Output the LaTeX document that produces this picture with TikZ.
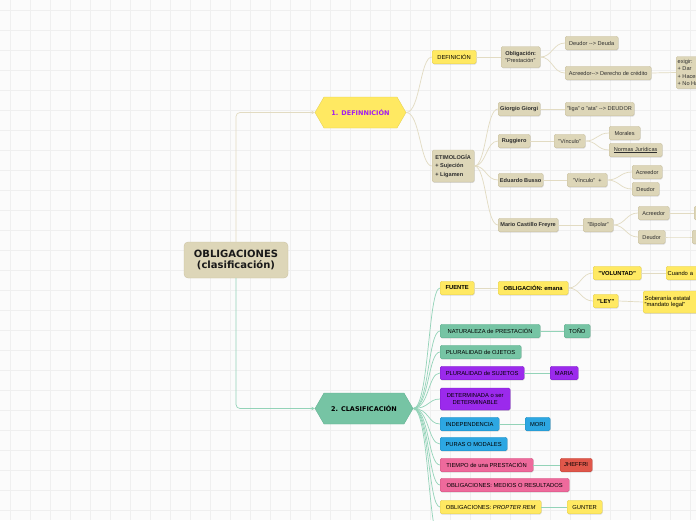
\documentclass[tikz,border=0pt]{standalone}
\usepackage{fontspec}
\setmainfont{Liberation Sans}
\newfontfamily\dejab{DejaVu Sans}
\usetikzlibrary{shapes.symbols,shadows,arrows.meta}
\definecolor{bgc}{HTML}{FBFBFB}
\definecolor{gridc}{HTML}{EFEFEF}
\definecolor{tanc}{HTML}{DDD6B8}
\definecolor{tanb}{HTML}{C8BF9E}
\definecolor{txt}{HTML}{2E2E2E}
\definecolor{ylw}{HTML}{FFE962}
\definecolor{ylwb}{HTML}{E3CF50}
\definecolor{grn}{HTML}{76C4A4}
\definecolor{grnb}{HTML}{5FAE8E}
\definecolor{pur}{HTML}{9B2AEC}
\definecolor{purb}{HTML}{7E1CC8}
\definecolor{blu}{HTML}{2DA7E2}
\definecolor{blub}{HTML}{1E8CC0}
\definecolor{pnk}{HTML}{EE6A9C}
\definecolor{pnkb}{HTML}{D0507F}
\definecolor{redc}{HTML}{E0574A}
\definecolor{redb}{HTML}{C0443A}
\definecolor{hexp}{HTML}{A21CF0}
\definecolor{tanl}{HTML}{E2DBC2}
\definecolor{grnl}{HTML}{93D3B8}
\newcommand\myfa{\fontsize{5.6}{6.6}\selectfont}
\newcommand\myfb{\fontsize{5.8}{6.8}\selectfont}
\newcommand\myfc{\fontsize{5.6}{8.2}\selectfont}
\tikzset{
  box/.style={anchor=west, rounded corners=1.5pt, inner xsep=1.5pt, inner ysep=1.5pt,
    minimum height=13.5pt, align=center, line width=0.3pt,
    drop shadow={shadow xshift=0.4pt, shadow yshift=-0.8pt, opacity=0.22, fill=black!60}},
  tanbox/.style={box, fill=tanc, draw=tanb, text=txt, font=\myfa},
  ylwbox/.style={box, fill=ylw, draw=ylwb, text=black, font=\myfb},
  grnbox/.style={box, fill=grn, draw=grnb, text=black, font=\myfb},
  purbox/.style={box, fill=pur, draw=purb, text=black, font=\myfb},
  blubox/.style={box, fill=blu, draw=blub, text=black, font=\myfb},
  pnkbox/.style={box, fill=pnk, draw=pnkb, text=black, font=\myfb},
  redbox/.style={box, fill=redc, draw=redb, text=black, font=\myfb},
  hexa/.style={signal, signal to=west and east, signal pointer angle=120,
    minimum height=31pt, inner sep=0pt, line width=0.3pt,
    font={\dejab\bfseries\fontsize{6.5}{7.5}\selectfont}},
  rootbox/.style={fill=tanc, draw=tanb, line width=0.3pt, rounded corners=4pt,
    minimum width=104pt, minimum height=36pt, align=center, text=black!90,
    font={\dejab\bfseries\fontsize{10}{11.5}\selectfont}},
  tline/.style={draw=tanl, line width=0.7pt},
  gline/.style={draw=grnl, line width=0.7pt},
}
\begin{document}
\begin{tikzpicture}[x=1pt,y=-1pt]
\useasboundingbox (0,0) rectangle (696,520);
\clip (0,0) rectangle (696,520);
\fill[bgc] (0,0) rectangle (696,520);
\foreach \i in {10,30,...,690} \draw[gridc, line width=0.5pt] (\i,0) -- (\i,520);
\foreach \j in {10,30,...,510} \draw[gridc, line width=0.5pt] (0,\j) -- (696,\j);

% root and main branches
\node[rootbox] (root) at (236,260) {OBLIGACIONES\\(clasificación)};
\node[hexa, fill=ylw, draw=ylwb, text=hexp, minimum width=91pt] (h1) at (360.5,112.5) {1. DEFINNICIÓN};
\node[hexa, fill=grn, draw=grnb, text=black, minimum width=98pt] (h2) at (364,408.5) {2. CLASIFICACIÓN};

% branch 1
\node[ylwbox, minimum width=44pt] (def) at (432,57) {DEFINICIÓN};
\node[tanbox, minimum width=39pt, minimum height=21pt, align=left] (obl) at (501,57) {\textbf{Obligación:}\\"Prestación"};
\node[tanbox, minimum width=53pt] (deu) at (565,43) {Deudor -{}-> Deuda};
\node[tanbox, minimum width=86pt] (acr) at (565,73) {Acreedor-{}-> Derecho de crédito};
\node[tanbox, minimum height=32pt, align=left, font=\fontsize{5.6}{7.4}\selectfont] (exi) at (676,72.5) {exigir:\\+ Dar\\+ Hacer\\+ No Hacer};
\node[tanbox, minimum width=42pt, minimum height=32pt, align=left, font=\myfc\bfseries] (eti) at (432,166) {ETIMOLOGÍA\\+ Sujeción\\+ Ligamen};
\node[tanbox, minimum width=42pt, font=\myfa\bfseries] (gio) at (498,109) {Giorgio Giorgi};
\node[tanbox, minimum width=69pt] (liga) at (565,109) {"liga" o "ata" -{}-> DEUDOR};
\node[tanbox, minimum width=32pt, font=\myfa\bfseries] (rug) at (498,141) {Ruggiero};
\node[tanbox, minimum width=31pt] (vin1) at (554,141) {"Vínculo"};
\node[tanbox, minimum width=31pt] (mor) at (609,133) {Morales};
\node[tanbox, minimum width=53pt] (nor) at (609,150) {\underline{Normas Jurídicas}};
\node[tanbox, minimum width=45pt, font=\myfa\bfseries] (edu) at (498,180) {Eduardo Busso};
\node[tanbox, minimum width=40pt] (vin2) at (567,180) {"Vínculo" \ +};
\node[tanbox, minimum width=30pt] (acr2) at (632,172) {Acreedor};
\node[tanbox, minimum width=27pt] (deu2) at (632,189) {Deudor};
\node[tanbox, minimum width=60pt, font=\myfa\bfseries] (mar) at (498,225) {Mario Castillo Freyre};
\node[tanbox, minimum width=30pt] (bip) at (583,225) {"Bipolar"};
\node[tanbox, minimum width=31pt] (acr3) at (638,213) {Acreedor};
\node[tanbox, minimum width=27pt] (deu3) at (638,237) {Deudor};
\node[tanbox, minimum width=20pt] (x3a) at (694,213) {};
\node[tanbox, minimum width=20pt] (x3b) at (692,237) {};

% branch 2
\node[ylwbox, minimum width=34pt, font=\myfb\bfseries] (fue) at (440,288) {FUENTE};
\node[ylwbox, minimum width=70pt, font=\myfb\bfseries] (ema) at (498,288) {OBLIGACIÓN: emana};
\node[ylwbox, minimum width=48pt, font=\myfb\bfseries] (vol) at (593,273) {"VOLUNTAD"};
\node[ylwbox, minimum width=25pt, font=\myfb\bfseries] (ley) at (593,301) {"LEY"};
\node[ylwbox, text width=42pt, align=left] (cua) at (666,273) {Cuando a};
\node[ylwbox, text width=60pt, minimum height=22pt, align=left] (sob) at (643,302) {Soberanía estatal\\"mandato legal"};
\node[grnbox, minimum width=100pt] (nat) at (440,331) {NATURALEZA de PRESTACIÓN};
\node[grnbox, minimum width=26pt] (ton) at (564,331) {TOÑO};
\node[grnbox, minimum width=81pt] (plo) at (440,352) {PLURALIDAD de OJETOS};
\node[purbox, minimum width=84pt] (pls) at (440,373) {PLURALIDAD de SUJETOS};
\node[purbox, minimum width=28pt] (mar2) at (550,373) {MARIA};
\node[purbox, minimum width=70pt, minimum height=22pt] (det) at (440,399) {DETERMINADA o ser\\DETERMINABLE};
\node[blubox, minimum width=59pt] (ind) at (440,424) {INDEPENDENCIA};
\node[blubox, minimum width=25pt] (mori) at (525,424) {MORI};
\node[blubox, minimum width=67pt] (pur) at (440,444) {PURAS O MODALES};
\node[pnkbox, minimum width=93pt] (tie) at (440,465) {TIEMPO de una PRESTACIÓN};
\node[redbox, minimum width=32pt] (jhe) at (560,465) {JHEFFRI};
\node[pnkbox, minimum width=129pt] (med) at (440,485) {OBLIGACIONES: MEDIOS O RESULTADOS};
\node[ylwbox, minimum width=101pt] (pro) at (440,507) {OBLIGACIONES: \textit{PROPTER REM}};
\node[ylwbox, minimum width=35pt] (gun) at (567,507) {GUNTER};
\coordinate (more) at (440,540);

% connectors
\draw[tline, rounded corners=4pt, -{Stealth[length=3.5pt,width=3.5pt]}] (root.north) |- (h1.west);
\draw[gline, rounded corners=4pt, -{Stealth[length=3.5pt,width=3.5pt]}] (root.south) |- (h2.west);
\foreach \b in {def,eti}
  \draw[tline] (h1.east) .. controls +(14,0) and +(-12,0) .. (\b.west);
\foreach \a/\b in {def/obl, obl/deu, obl/acr, acr/exi, eti/gio, eti/rug, eti/edu, eti/mar,
    gio/liga, rug/vin1, vin1/mor, vin1/nor, edu/vin2, vin2/acr2, vin2/deu2,
    mar/bip, bip/acr3, bip/deu3, acr3/x3a, deu3/x3b}
  \draw[tline] (\a.east) .. controls +(12,0) and +(-12,0) .. (\b.west);
\foreach \b in {fue,nat,plo,pls,det,ind,pur,tie,med,pro,more}
  \draw[gline] (h2.east) .. controls +(16,0) and +(-12,0) .. (\b.west);
\foreach \a/\b in {fue/ema, ema/vol, ema/ley, vol/cua, ley/sob}
  \draw[tline] (\a.east) .. controls +(12,0) and +(-12,0) .. (\b.west);
\foreach \a/\b in {nat/ton, pls/mar2, ind/mori, tie/jhe, pro/gun}
  \draw[gline] (\a.east) -- (\b.west);
\end{tikzpicture}
\end{document}
